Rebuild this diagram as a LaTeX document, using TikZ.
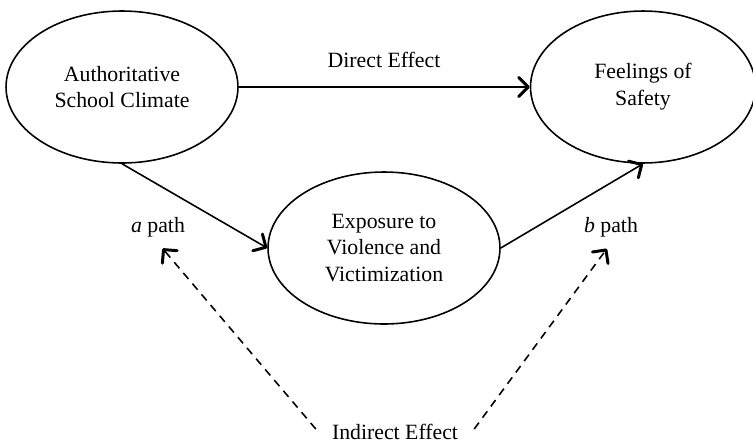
\documentclass[tikz,border=0pt]{standalone}
\usepackage{fontspec}
\setmainfont{Liberation Serif}
\usetikzlibrary{positioning, shapes.geometric, arrows.meta}
\tikzstyle{pixelGrid} = [x = 0.02cm, y = -0.02cm]
\tikzstyle{factorStyle} = [ellipse, draw, line width = 0.9pt, minimum width = 4.64cm, minimum height = 3.04cm, align = center, inner sep = 0pt]
\tikzstyle{pathText} = [font=\fontsize{12.4}{15.3}\selectfont]
\tikzstyle{effectArrow} = [line width = 0.9pt, -{Straight Barb[length=5.5pt, width=11pt, line width=1.7pt, round]}]
\tikzstyle{indirectArrow} = [effectArrow, dash pattern = on 4.5pt off 3.5pt]

\begin{document}
\begin{tikzpicture}[pixelGrid]
        \useasboundingbox (0,0) rectangle (753,444);
        \node [factorStyle, pathText] (climate) at (122,87) {Authoritative\\School Climate};
        \node [factorStyle, pathText, minimum width = 4.5cm] (safety) at (643,87) {Feelings of\\Safety};
        \node [factorStyle, pathText] (exposure) at (384,248) {Exposure to\\Violence and\\Victimization};

        \node [pathText] (direct) at (384,60) {Direct Effect};
        \node [pathText] (apath) at (158,227) {\textit{a} path};
        \node [pathText] (bpath) at (611,227) {\textit{b} path};
        \node [pathText] (indirect) at (395,432) {Indirect Effect};

        \draw [effectArrow] (climate.east) -- (safety.west);
        \draw [effectArrow] (climate.south) -- (exposure.west);
        \draw [effectArrow] (exposure.east) -- (safety.south);

        \draw [indirectArrow, shorten >= 4pt] (indirect.west) ++(-10,-3) -- (apath.south);
        \draw [indirectArrow, shorten >= 4pt] (indirect.east) ++(10,-3) -- (bpath.south);
      \end{tikzpicture}
\end{document}
